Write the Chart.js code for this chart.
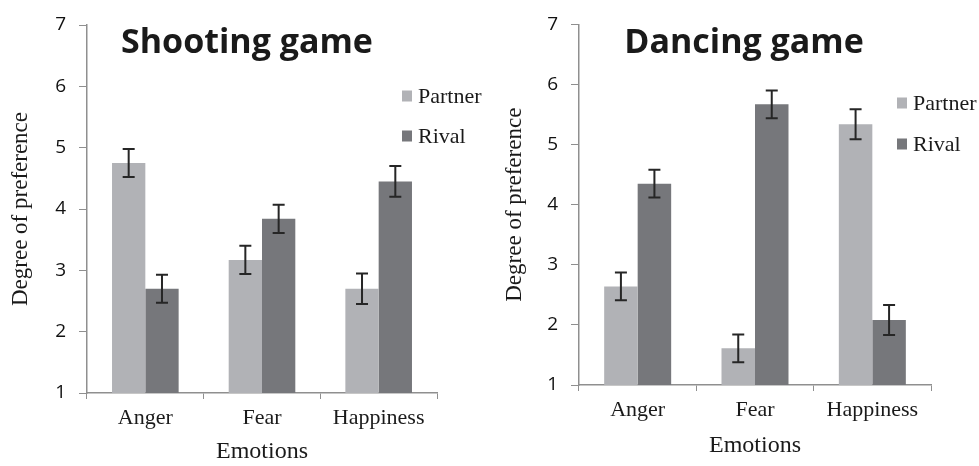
<!DOCTYPE html>
<html>
<head>
<meta charset="utf-8">
<script src="https://cdn.jsdelivr.net/npm/chart.js@4.4.1/dist/chart.umd.min.js"></script>
<style>
  html, body { margin: 0; padding: 0; background: #fff; }
  body { width: 979px; height: 466px; position: relative; overflow: hidden; }
  canvas { position: absolute; top: 0; }
  #shooting { left: 0; }
  #dancing { left: 490px; }
</style>
</head>
<body>
<canvas id="shooting" width="490" height="466"></canvas>
<canvas id="dancing" width="489" height="466"></canvas>
<script>
const emotions = ['Anger', 'Fear', 'Happiness'];
const yTicks = [1, 2, 3, 4, 5, 6, 7];

// shooting game means and standard errors
const shootingPartner = [4.75, 3.17, 2.70];
const shootingRival = [2.70, 3.84, 4.45];
const shootingPartnerErr = [0.23, 0.23, 0.25];
const shootingRivalErr = [0.23, 0.23, 0.25];

// dancing game means and standard errors
const dancingPartner = [2.64, 1.61, 5.34];
const dancingRival = [4.35, 5.67, 2.08];
const dancingPartnerErr = [0.23, 0.23, 0.25];
const dancingRivalErr = [0.23, 0.23, 0.25];

const partnerColor = '#b1b2b6';
const rivalColor = '#76777b';
const axisColor = '#8f8f8f';
const serif = '"Liberation Serif", "Times New Roman", serif';

// error bars, in-plot title and legend
const decorations = {
    id: 'decorations',
    afterDatasetsDraw(chart, args, opts) {
        const ctx = chart.ctx;
        const y = chart.scales.y;
        ctx.save();
        ctx.strokeStyle = '#262626';
        ctx.lineWidth = 2;
        chart.data.datasets.forEach((ds, i) => {
            chart.getDatasetMeta(i).data.forEach((bar, j) => {
                const top = y.getPixelForValue(ds.data[j] + ds.errors[j]);
                const bottom = y.getPixelForValue(ds.data[j] - ds.errors[j]);
                ctx.beginPath();
                ctx.moveTo(bar.x, top);
                ctx.lineTo(bar.x, bottom);
                ctx.moveTo(bar.x - 6, top);
                ctx.lineTo(bar.x + 6, top);
                ctx.moveTo(bar.x - 6, bottom);
                ctx.lineTo(bar.x + 6, bottom);
                ctx.stroke();
            });
        });

        ctx.fillStyle = '#1a1a1a';
        ctx.font = 'bold 34px "Open Sans", sans-serif';
        ctx.textAlign = 'center';
        ctx.textBaseline = 'alphabetic';
        ctx.fillText(opts.title, opts.titleX, opts.titleY);

        ctx.textAlign = 'left';
        ctx.textBaseline = 'middle';
        ctx.font = '22px ' + serif;
        chart.data.datasets.forEach((ds, i) => {
            const ly = opts.legendY + i * opts.legendGap;
            ctx.fillStyle = ds.backgroundColor;
            ctx.fillRect(opts.legendX, ly - 5.5, 10, 11);
            ctx.fillStyle = '#1a1a1a';
            ctx.fillText(ds.label, opts.legendX + 16, ly + 1);
        });
        ctx.restore();
    }
};

function makeChart(id, partner, rival, partnerErr, rivalErr, box, deco) {
    return new Chart(document.getElementById(id), {
        type: 'bar',
        data: {
            labels: emotions,
            datasets: [
                { label: 'Partner', data: partner, errors: partnerErr, backgroundColor: partnerColor },
                { label: 'Rival', data: rival, errors: rivalErr, backgroundColor: rivalColor }
            ]
        },
        options: {
            responsive: false,
            animation: false,
            categoryPercentage: 0.571,
            barPercentage: 1,
            layout: { padding: { top: box.top, right: box.right, bottom: 0, left: 0 } },
            plugins: {
                legend: { display: false },
                tooltip: { enabled: false },
                decorations: deco
            },
            scales: {
                x: {
                    grid: { offset: true, drawOnChartArea: false, color: axisColor, tickLength: 6 },
                    border: { color: axisColor, width: 1.5 },
                    ticks: { color: '#1a1a1a', padding: 6, font: { family: serif, size: 22 } },
                    title: {
                        display: true, text: 'Emotions', color: '#1a1a1a',
                        font: { family: serif, size: 24 },
                        padding: { top: 0, bottom: box.xTitlePad }
                    },
                    afterFit: s => { s.height = box.xHeight; }
                },
                y: {
                    min: 1, max: 7,
                    afterBuildTicks: s => { s.ticks = yTicks.map(v => ({ value: v })); },
                    grid: { drawOnChartArea: false, color: axisColor, tickLength: 8 },
                    border: { color: axisColor, width: 1.5 },
                    ticks: { color: '#111', padding: 13, font: { family: '"Open Sans", sans-serif', size: 19 } },
                    title: {
                        display: true, text: 'Degree of preference', color: '#1a1a1a',
                        font: { family: serif, size: 23 },
                        padding: { top: box.yTitlePad, bottom: 0 }
                    },
                    afterFit: s => { s.width = box.yWidth; }
                }
            }
        },
        plugins: [decorations]
    });
}

makeChart('shooting', shootingPartner, shootingRival, shootingPartnerErr, shootingRivalErr,
    { top: 25, right: 53, xHeight: 73, yWidth: 87, xTitlePad: 0, yTitlePad: 7 },
    { title: 'Shooting game', titleX: 247, titleY: 53, legendX: 402, legendY: 96, legendGap: 40 });

makeChart('dancing', dancingPartner, dancingRival, dancingPartnerErr, dancingRivalErr,
    { top: 16, right: 48, xHeight: 81, yWidth: 89, xTitlePad: 6, yTitlePad: 11 },
    { title: 'Dancing game', titleX: 254, titleY: 53, legendX: 407, legendY: 103, legendGap: 41 });
</script>
</body>
</html>
